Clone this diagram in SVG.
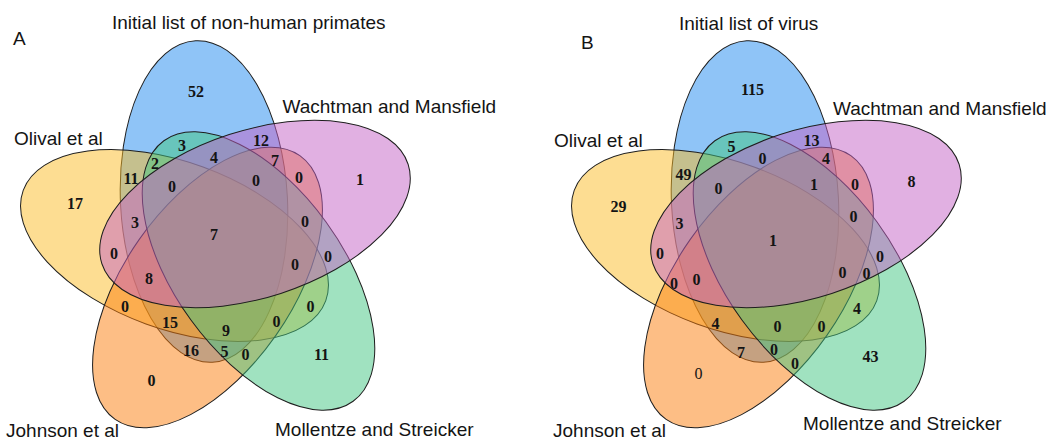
<svg xmlns="http://www.w3.org/2000/svg" width="1053" height="441" viewBox="0 0 1053 441">
<style>
.e{stroke:#1e1e1e;stroke-width:1;fill-opacity:0.5}
.blue{fill:#1F89EF}
.yellow{fill:#FBBB25}
.orange{fill:#FB7D0B}
.green{fill:#41C581}
.pink{fill:#C361C5}
.lab{font-family:"Liberation Sans",Arial,sans-serif;font-size:19px;fill:#141414}
.n{font-family:"Liberation Serif","Times New Roman",serif;font-weight:bold;font-size:16px;text-anchor:middle;fill:#141414}
.r{font-weight:normal}
</style>
<rect width="1053" height="441" fill="#ffffff"/>
<defs>
<ellipse id="eBlue" cx="204" cy="201.5" rx="83.5" ry="161" transform="rotate(-3 204 201.5)"/>
<ellipse id="eYellow" cx="174.5" cy="245.5" rx="161" ry="83.5" transform="rotate(20 174.5 245.5)"/>
<ellipse id="eOrange" cx="207.5" cy="287.5" rx="161" ry="83.5" transform="rotate(125 207.5 287.5)"/>
<ellipse id="eGreen" cx="258.5" cy="271" rx="161" ry="83.5" transform="rotate(54 258.5 271)"/>
<ellipse id="ePink" cx="255" cy="214" rx="161" ry="83.5" transform="rotate(-18 255 214)"/>
</defs>

<!-- Panel A -->
<g id="panelA">
<text class="lab" x="13" y="45">A</text>
<g id="A-initial"><use href="#eBlue" class="e blue"/><text class="lab" x="112" y="29">Initial list of non-human primates</text></g>
<g id="A-olival"><use href="#eYellow" class="e yellow"/><text class="lab" x="14" y="145">Olival et al</text></g>
<g id="A-johnson"><use href="#eOrange" class="e orange"/><text class="lab" x="6" y="437">Johnson et al</text></g>
<g id="A-mollentze"><use href="#eGreen" class="e green"/><text class="lab" x="275" y="436">Mollentze and Streicker</text></g>
<g id="A-wachtman"><use href="#ePink" class="e pink"/><text class="lab" x="282.5" y="113">Wachtman and Mansfield</text></g>
<g id="A-counts">
<text class="n" x="196" y="96.5">52</text>
<text class="n" x="261" y="146">12</text>
<text class="n" x="360" y="184.5">1</text>
<text class="n" x="182" y="151">3</text>
<text class="n" x="214" y="162.5">4</text>
<text class="n" x="275" y="165.5">7</text>
<text class="n" x="155" y="168.5">2</text>
<text class="n" x="131" y="184">11</text>
<text class="n" x="172" y="192">0</text>
<text class="n" x="256" y="186">0</text>
<text class="n" x="299" y="183">0</text>
<text class="n" x="75" y="208.5">17</text>
<text class="n" x="135" y="227.5">3</text>
<text class="n" x="214" y="240">7</text>
<text class="n" x="305" y="227">0</text>
<text class="n" x="114" y="259">0</text>
<text class="n" x="328" y="262">0</text>
<text class="n" x="295" y="270">0</text>
<text class="n" x="149" y="284">8</text>
<text class="n" x="125" y="312">0</text>
<text class="n" x="310.5" y="312">0</text>
<text class="n" x="170" y="328">15</text>
<text class="n" x="226" y="335.5">9</text>
<text class="n" x="276.5" y="327">0</text>
<text class="n" x="191" y="355.5">16</text>
<text class="n" x="224.5" y="357">5</text>
<text class="n" x="245.5" y="360">0</text>
<text class="n" x="321.5" y="359.5">11</text>
<text class="n" x="151.5" y="385.5">0</text>
</g>
</g>

<!-- Panel B -->
<g id="panelB">
<text class="lab" x="581" y="49">B</text>
<g id="B-initial"><use href="#eBlue" class="e blue" transform="translate(551 0)"/><text class="lab" x="679" y="30">Initial list of virus</text></g>
<g id="B-olival"><use href="#eYellow" class="e yellow" transform="translate(551 0)"/><text class="lab" x="554" y="146.5">Olival et al</text></g>
<g id="B-johnson"><use href="#eOrange" class="e orange" transform="translate(551 0)"/><text class="lab" x="553" y="437">Johnson et al</text></g>
<g id="B-mollentze"><use href="#eGreen" class="e green" transform="translate(551 0)"/><text class="lab" x="803" y="430">Mollentze and Streicker</text></g>
<g id="B-wachtman"><use href="#ePink" class="e pink" transform="translate(551 0)"/><text class="lab" x="833" y="115">Wachtman and Mansfield</text></g>
<g id="B-counts">
<text class="n" x="752.5" y="95">115</text>
<text class="n" x="811.5" y="145.5">13</text>
<text class="n" x="911.5" y="187">8</text>
<text class="n" x="731.5" y="151.5">5</text>
<text class="n" x="762.5" y="163.5">0</text>
<text class="n" x="826" y="163.5">4</text>
<text class="n" x="683.5" y="179.5">49</text>
<text class="n" x="718.5" y="193.5">0</text>
<text class="n" x="814" y="189.5">1</text>
<text class="n" x="855" y="189.5">0</text>
<text class="n" x="618.5" y="212">29</text>
<text class="n" x="679.5" y="228.5">3</text>
<text class="n" x="853.5" y="222">0</text>
<text class="n" x="773" y="245.5">1</text>
<text class="n" x="660" y="259">0</text>
<text class="n" x="880" y="261.5">0</text>
<text class="n" x="842.5" y="277.5">0</text>
<text class="n" x="866.5" y="279">0</text>
<text class="n" x="674" y="289">0</text>
<text class="n" x="696.5" y="284.5">0</text>
<text class="n" x="857" y="313.5">4</text>
<text class="n" x="715.5" y="328.5">4</text>
<text class="n" x="777.5" y="332">0</text>
<text class="n" x="821.5" y="332">0</text>
<text class="n" x="741" y="357.5">7</text>
<text class="n" x="774" y="354.5">0</text>
<text class="n" x="795" y="368.5">0</text>
<text class="n" x="870.5" y="361.5">43</text>
<text class="n r" x="698.5" y="378.5">0</text>
</g>
</g>
</svg>
